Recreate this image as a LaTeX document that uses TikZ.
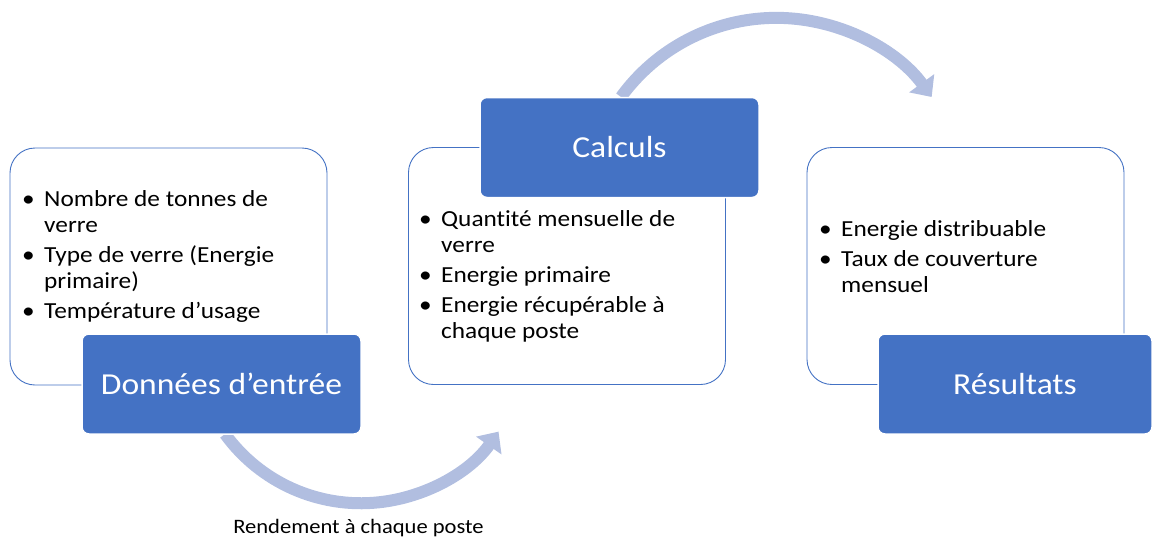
\documentclass[tikz,border=0pt]{standalone}
\usepackage{fontspec}
\setmainfont[Ligatures={NoCommon},FakeStretch=1.1]{Carlito}
\usetikzlibrary{arrows.meta}
\definecolor{accent}{HTML}{4472C4}
\definecolor{arcc}{HTML}{B1BEE0}
\tikzset{
  whitebox/.style={draw=accent, line width=0.9pt, fill=white, rounded corners=25pt, minimum width=317pt, minimum height=237pt, inner sep=0pt},
  bluebox/.style={draw=white, line width=1.5pt, fill=accent, rounded corners=7pt, minimum width=279pt, minimum height=100pt, inner sep=0pt, text=white, font=\fontsize{30.5}{35}\selectfont},
  bullets/.style={anchor=base west, inner sep=0pt, font=\fontsize{23}{26}\selectfont, text=black},
  arcline/.style={draw=arcc, line width=12pt, -{Triangle[length=17pt,width=30pt]}},
}
\newcommand{\bitem}{\textbullet}
\begin{document}
\begin{tikzpicture}[x=1pt,y=1pt]
\useasboundingbox (0,0) rectangle (1153,-541);
% arcs
\coordinate (a1s) at (225,-434);
\coordinate (a2s) at (621,-97);
\draw[arcline] (a1s) arc[start angle=216, end angle=325, radius=168];
\draw[arcline] (a2s) arc[start angle=144, end angle=36, radius=192];
% boxes
\node[whitebox] (wL) at (168.5,-266.5) {};
\node[whitebox] (wM) at (567,-266) {};
\node[whitebox] (wR) at (965.5,-266) {};
\node[bluebox] (bL) at (221.5,-384) {Données d’entrée};
\node[bluebox] (bM) at (619.5,-147.5) {Calculs};
\node[bluebox, minimum width=274pt] (bR) at (1015,-384) {Résultats};
% texts
\node[bullets] (tL) at (22,-206.7) {\begin{tabular}[t]{@{}p{22pt}@{}l@{}}
\bitem & Nombre de tonnes de\\
 & verre\\[4pt]
\bitem & Type de verre (Energie\\
 & primaire)\\[4pt]
\bitem & Température d’usage
\end{tabular}};
\node[bullets] (tM) at (419,-226) {\begin{tabular}[t]{@{}p{22pt}@{}l@{}}
\bitem & Quantité mensuelle de\\
 & verre\\[4pt]
\bitem & Energie primaire\\[4pt]
\bitem & Energie récupérable à\\
 & chaque poste
\end{tabular}};
\node[bullets] (tR) at (819,-236) {\begin{tabular}[t]{@{}p{22pt}@{}l@{}}
\bitem & Energie distribuable\\[4pt]
\bitem & Taux de couverture\\
 & mensuel
\end{tabular}};
\node[font=\fontsize{20.5}{24}\selectfont, inner sep=0pt] (cap) at (358.5,-528) {Rendement à chaque poste};
\end{tikzpicture}
\end{document}
